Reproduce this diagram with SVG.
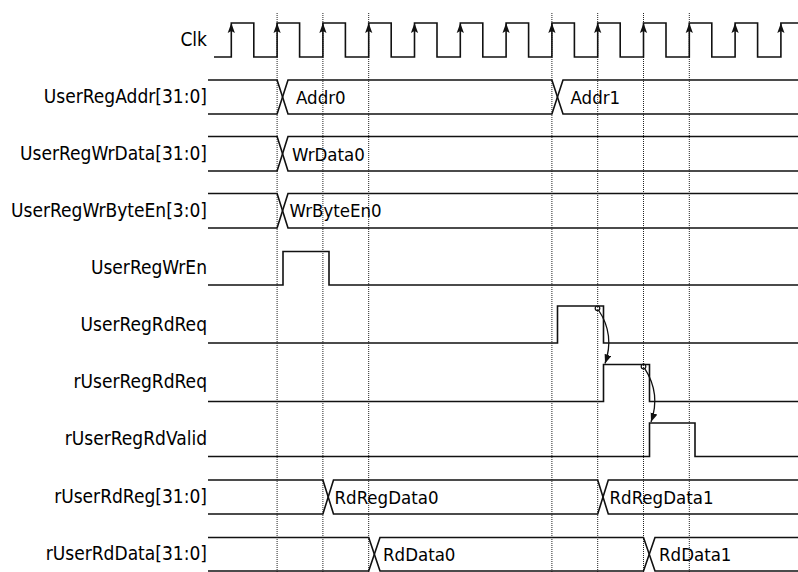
<svg xmlns="http://www.w3.org/2000/svg" width="798" height="572" viewBox="0 0 798 572">
<style>
.lbl{font-family:"DejaVu Sans","Liberation Sans",sans-serif;font-stretch:condensed;font-size:19px;fill:#000;text-anchor:end}
.val{font-family:"DejaVu Sans","Liberation Sans",sans-serif;font-stretch:condensed;font-size:18.5px;fill:#000}
.w{fill:none;stroke:#111;stroke-width:1.6;stroke-linejoin:miter}
.guide{fill:none;stroke:#222;stroke-width:1;stroke-dasharray:1 1}
.clkarr{fill:#111}
.conn{fill:none;stroke:#111;stroke-width:1.3}
.dot{fill:none;stroke:#111;stroke-width:1.2}
</style>
<defs>
<marker id="ah" markerUnits="userSpaceOnUse" markerWidth="10" markerHeight="8" refX="9" refY="3.5" orient="auto">
<path d="M0,0 L9,3.5 L0,7 z" fill="#111"/>
</marker>
<polygon id="up" points="0,0 3.6,10 0,8 -3.6,10" class="clkarr"/>
</defs>
<rect width="798" height="572" fill="#fff"/>
<g id="guides">
<line class="guide" x1="277.1" y1="13" x2="277.1" y2="572"/>
<line class="guide" x1="322.9" y1="13" x2="322.9" y2="572"/>
<line class="guide" x1="368.7" y1="13" x2="368.7" y2="572"/>
<line class="guide" x1="551.9" y1="13" x2="551.9" y2="572"/>
<line class="guide" x1="597.7" y1="13" x2="597.7" y2="572"/>
<line class="guide" x1="643.5" y1="13" x2="643.5" y2="572"/>
<line class="guide" x1="689.3" y1="13" x2="689.3" y2="572"/>
</g>
<g id="Clk">
<text class="lbl" x="207" y="46">Clk</text>
<path class="w" d="M214,57 H231.3 V23 H253.8 V57 H277.1 V23 H299.6 V57 H322.9 V23 H345.4 V57 H368.7 V23 H391.2 V57 H414.5 V23 H437 V57 H460.3 V23 H482.8 V57 H506.1 V23 H528.6 V57 H551.9 V23 H574.4 V57 H597.7 V23 H620.2 V57 H643.5 V23 H666 V57 H689.3 V23 H711.8 V57 H735.1 V23 H757.6 V57 H780.9 V23 H798"/>
<use href="#up" x="231.3" y="23"/>
<use href="#up" x="277.1" y="23"/>
<use href="#up" x="322.9" y="23"/>
<use href="#up" x="368.7" y="23"/>
<use href="#up" x="414.5" y="23"/>
<use href="#up" x="460.3" y="23"/>
<use href="#up" x="506.1" y="23"/>
<use href="#up" x="551.9" y="23"/>
<use href="#up" x="597.7" y="23"/>
<use href="#up" x="643.5" y="23"/>
<use href="#up" x="689.3" y="23"/>
<use href="#up" x="735.1" y="23"/>
<use href="#up" x="780.9" y="23"/>
</g>
<g id="UserRegAddr">
<text class="lbl" x="207" y="103">UserRegAddr[31:0]</text>
<path class="w" d="M208,80 H277.1 L288,114 H551.9 L563,80 H798"/>
<path class="w" d="M208,114 H277.1 L288,80 H551.9 L563,114 H798"/>
<text class="val" x="296" y="103.5">Addr0</text>
<text class="val" x="570.5" y="103.5">Addr1</text>
</g>
<g id="UserRegWrData">
<text class="lbl" x="207" y="160">UserRegWrData[31:0]</text>
<path class="w" d="M208,136.5 H277.1 L288,171 H798"/>
<path class="w" d="M208,171 H277.1 L288,136.5 H798"/>
<text class="val" x="292" y="160.5">WrData0</text>
</g>
<g id="UserRegWrByteEn">
<text class="lbl" x="207" y="217">UserRegWrByteEn[3:0]</text>
<path class="w" d="M208,193.5 H277.1 L288,228 H798"/>
<path class="w" d="M208,228 H277.1 L288,193.5 H798"/>
<text class="val" x="289.5" y="217">WrByteEn0</text>
</g>
<g id="UserRegWrEn">
<text class="lbl" x="207" y="274">UserRegWrEn</text>
<path class="w" d="M208,285 H283 V251.5 H329 V285 H798"/>
</g>
<g id="UserRegRdReq">
<text class="lbl" x="207" y="331">UserRegRdReq</text>
<path class="w" d="M208,343 H557.5 V306 H603.5 V343 H798"/>
</g>
<g id="rUserRegRdReq">
<text class="lbl" x="207" y="388">rUserRegRdReq</text>
<path class="w" d="M208,401.5 H603.5 V364.5 H649.5 V401.5 H798"/>
</g>
<g id="rUserRegRdValid">
<text class="lbl" x="207" y="445">rUserRegRdValid</text>
<path class="w" d="M208,456.5 H649.5 V423 H695 V456.5 H798"/>
</g>
<g id="rUserRdReg">
<text class="lbl" x="207" y="502.5">rUserRdReg[31:0]</text>
<path class="w" d="M208,480 H322.9 L333.5,514 H597.7 L608.3,480 H798"/>
<path class="w" d="M208,514 H322.9 L333.5,480 H597.7 L608.3,514 H798"/>
<text class="val" x="334.5" y="504">RdRegData0</text>
<text class="val" x="609.5" y="504">RdRegData1</text>
</g>
<g id="rUserRdData">
<text class="lbl" x="207" y="559.5">rUserRdData[31:0]</text>
<path class="w" d="M208,537.5 H368.7 L380,571 H643.5 L655,537.5 H798"/>
<path class="w" d="M208,571 H368.7 L380,537.5 H643.5 L655,571 H798"/>
<text class="val" x="383" y="560.5">RdData0</text>
<text class="val" x="659" y="560.5">RdData1</text>
</g>
<g id="connectors">
<circle class="dot" cx="597.5" cy="308.3" r="2.3"/>
<path class="conn" d="M598.8,310.5 Q615,335 605,363.5" marker-end="url(#ah)"/>
<circle class="dot" cx="643.5" cy="366.5" r="2.3"/>
<path class="conn" d="M644.8,368.7 Q661,394 651,422" marker-end="url(#ah)"/>
</g>
</svg>
